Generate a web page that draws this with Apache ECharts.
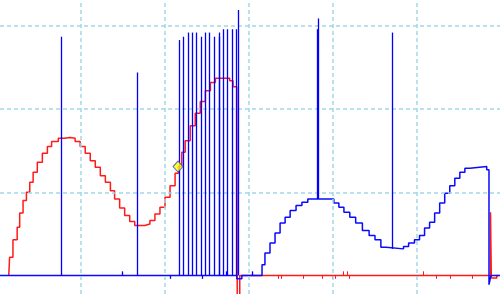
<!DOCTYPE html>
<html><head><meta charset="utf-8">
<script src="https://cdn.jsdelivr.net/npm/echarts@6/dist/echarts.min.js"></script>
<style>html,body{margin:0;padding:0;background:#fff}#c{width:500px;height:294px}</style>
</head><body><div id="c"></div>
<script>
// Red trace (sample-and-hold), x in time units, y in amplitude units
const redX = [14,15,19,24,27,31,35,39,43,48,54,60,65,73,80,87,93,99,105,111,117,123,129,135,140,146,152,158,164,176,182,188,194,200,206,212,216,220,224,230,236,242,248,254,260,277,281,285.5,286,289,587.5,588.5,595,597];
const redY = [0,22,43,58,75,90,100,112,124,136,147,155,161,165,166,165,161,155,147,138,130,120,112,102,92,81,72,65,60,62,66,74,82,94,108,123,131,148,162,180,195,209,222,232,237,234,227,220,-25,0,76,-3,0,0];
// Blue trace
const blueX = [0,285.5,291.5,315.5,319,325,331,337,343,349,356,363,370,401,407,413,420,427,435,443,450,457,463,484,490,497,503,509,515,521,527,533,539,545,551,557,563,583,585.7,588,600];
const blueY = [0,-4,0,13,27,39,51,63,70,78,84,88,92,87,82,76,70,63,54,48,43,34,32,35,39,43,48,57,64,75,87,99,108,117,124,129,131,127,-11,0,0];
// Blue glitch spikes
const blueSpikeX = [76.2,148.8,166.7,206,217,221.8,227.7,232.5,237.7,242.9,244,248.5,253.2,258.7,264,264.7,269.4,272.6,274.4,279.8,285.4,287.1,303.6,381,382.5,471];
const blueSpikeFrom = [0,0,0,0,0,0,0,0,0,0,0,0,0,0,0,0,0,0,0,0,0,0,0,92,92,32];
const blueSpikeTo = [287,5,244,-4,283,287,292,292,292,287,-4,292,292,287,287,292,296,5,296,296,296,319,5,296,309,292];
// Red glitch ticks on the baseline
const redTickX = [334.5,338.1,364.3,386.9,398.8,402.4,411.9,416.7,419,507.1,522.6,539.3,565.5];
const redTickH = [-4,-4,-4,-4,-4,-4,5,5,-4,5,-4,-4,-4];
// Cursor marker
const markerX = [215.5];
const markerY = [131];
// Graticule divisions
const gridX = [100, 200, 300, 400, 500];
const gridY = [100, 200, 300];

const pairs = (xs, ys) => xs.map((x, i) => [x, ys[i]]);
const chart = echarts.init(document.getElementById('c'), null, {renderer: 'canvas'});
const hidden = {axisLine: {show: false}, axisTick: {show: false}, axisLabel: {show: false}, splitLine: {show: false}};
chart.setOption({
  animation: false,
  backgroundColor: '#ffffff',
  grid: {left: 0, right: 0, top: 0, bottom: 0, containLabel: false},
  xAxis: Object.assign({type: 'value', min: 3.571, max: 598.81}, hidden),
  yAxis: Object.assign({type: 'value', min: -22.24, max: 331.13}, hidden),
  series: [
    {type: 'line', data: [], z: 1, silent: true,
      markLine: {silent: true, symbol: ['none', 'none'], label: {show: false},
        lineStyle: {color: '#a3d6e8', width: 1.5, type: [4, 3]},
        data: gridX.map(v => ({xAxis: v})).concat(gridY.map(v => ({yAxis: v})))}},
    {type: 'line', step: 'end', data: pairs(redX, redY), showSymbol: false, z: 3,
      lineStyle: {color: '#ff1a1a', width: 1.5}},
    {type: 'lines', coordinateSystem: 'cartesian2d', z: 3,
      data: redTickX.map((x, i) => ({coords: [[x, 0], [x, redTickH[i]]]})),
      lineStyle: {color: '#ff1a1a', width: 1, opacity: 1}},
    {type: 'line', step: 'end', data: pairs(blueX, blueY), showSymbol: false, z: 4,
      lineStyle: {color: '#0a0aff', width: 1.5}},
    {type: 'lines', coordinateSystem: 'cartesian2d', z: 5,
      data: blueSpikeX.map((x, i) => ({coords: [[x, blueSpikeFrom[i]], [x, blueSpikeTo[i]]]})),
      lineStyle: {color: '#0000ff', width: 1.3, opacity: 1}},
    {type: 'scatter', data: pairs(markerX, markerY), symbol: 'diamond', symbolSize: [10, 11], z: 6,
      itemStyle: {color: '#ffff00', borderColor: '#3a3ad0', borderWidth: 1}}
  ]
});
</script></body></html>
